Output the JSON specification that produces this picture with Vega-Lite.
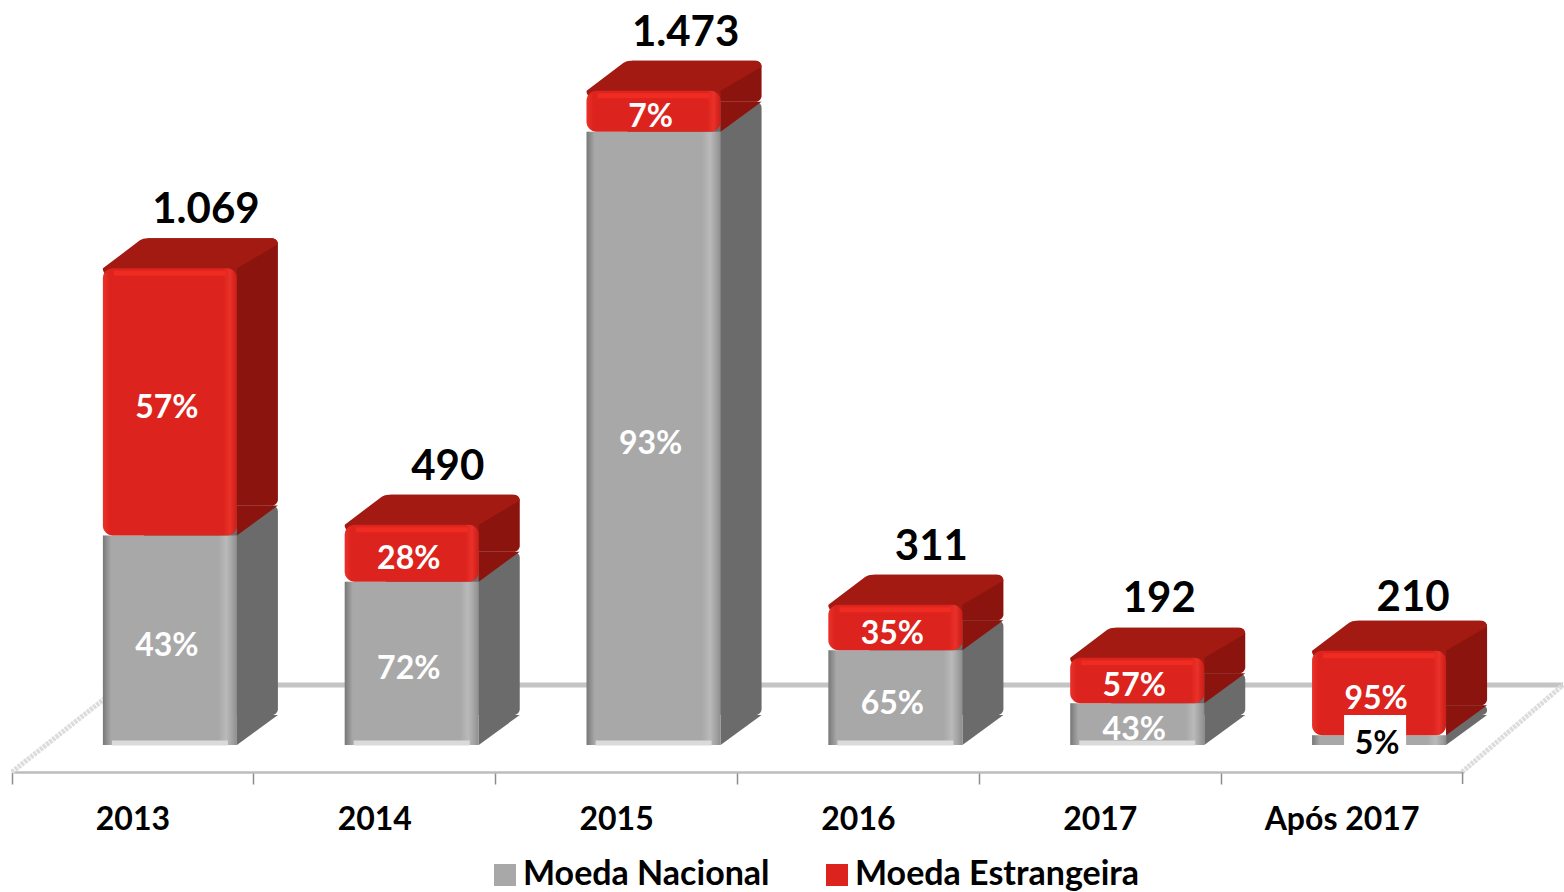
{
"$schema":"https://vega.github.io/schema/vega-lite/v6.json",
"width":1451,"height":772,"autosize":{"type":"none"},
"padding":{"left":12,"top":0,"right":101,"bottom":120},
"background":"white",
"config":{"view":{"stroke":null},"font":"Lato"},
"data":{"values":[
{"categoria":"2013","serie":"Moeda Nacional","valor":471,"pct":"43%","total":"1.069"},
{"categoria":"2014","serie":"Moeda Nacional","valor":367,"pct":"72%","total":"490"},
{"categoria":"2015","serie":"Moeda Nacional","valor":1378,"pct":"93%","total":"1.473"},
{"categoria":"2016","serie":"Moeda Nacional","valor":213,"pct":"65%","total":"311"},
{"categoria":"2017","serie":"Moeda Nacional","valor":94,"pct":"43%","total":"192"},
{"categoria":"Após 2017","serie":"Moeda Nacional","valor":22,"pct":"5%","total":"210"},
{"categoria":"2013","serie":"Moeda Estrangeira","valor":600,"pct":"57%","total":"1.069"},
{"categoria":"2014","serie":"Moeda Estrangeira","valor":128,"pct":"28%","total":"490"},
{"categoria":"2015","serie":"Moeda Estrangeira","valor":92,"pct":"7%","total":"1.473"},
{"categoria":"2016","serie":"Moeda Estrangeira","valor":102,"pct":"35%","total":"311"},
{"categoria":"2017","serie":"Moeda Estrangeira","valor":102,"pct":"57%","total":"192"},
{"categoria":"Após 2017","serie":"Moeda Estrangeira","valor":190,"pct":"95%","total":"210"}
]},
"transform":[
{"stack":"valor","groupby":["categoria"],"sort":[{"field":"serie","order":"descending"}],"as":["v0","v1"]},
{"calculate":"(datum.v0+datum.v1)/2","as":"meio"}
],
"encoding":{
"x":{"field":"categoria","type":"nominal","title":null,
 "scale":{"domain":["2013","2014","2015","2016","2017","Após 2017"],"paddingInner":0,"paddingOuter":0},
 "axis":{"labelAngle":0,"bandPosition":0,"domainColor":"#bdbdbd","domainWidth":2.5,"tickColor":"#8c8c8c","tickWidth":1.5,"tickSize":12,"labelPadding":20,"labelFont":"Lato","labelFontWeight":"bold","labelFontSize":32,"labelColor":"#000000","labelLimit":300}},
"y":{"field":"v1","type":"quantitative","axis":null,"scale":{"domain":[-60.67,1674],"nice":false,"zero":false}}
},
"layer":[
{"transform":[{"filter":"datum.categoria==='2013'&&datum.serie==='Moeda Nacional'"}],
 "mark":{"type":"rule","stroke":"#c4c4c4","strokeWidth":5,"xOffset":-30,"x2Offset":221},
 "encoding":{"x":{"datum":"2013"},"x2":{"datum":"Após 2017"},"y":{"datum":135},"y2":null}},
{"transform":[{"filter":"datum.categoria==='2013'&&datum.serie==='Moeda Nacional'"}],
 "mark":{"type":"rule","stroke":"#dcdcdc","strokeWidth":5,"strokeDash":[3,1],"xOffset":-121,"x2Offset":-11},
 "encoding":{"x":{"datum":"2013"},"x2":{"datum":"2013"},"y":{"datum":-60.67},"y2":{"datum":135}}},
{"transform":[{"filter":"datum.categoria==='2013'&&datum.serie==='Moeda Nacional'"}],
 "mark":{"type":"rule","stroke":"#dcdcdc","strokeWidth":5,"strokeDash":[3,1],"xOffset":120,"x2Offset":221},
 "encoding":{"x":{"datum":"Após 2017"},"x2":{"datum":"Após 2017"},"y":{"datum":-60.67},"y2":{"datum":135}}},
{"transform":[{"filter":"datum.categoria==='2013'&&datum.serie==='Moeda Nacional'"}],
 "mark":{"type":"rule","stroke":"#8c8c8c","strokeWidth":1.5,"xOffset":120.5,"x2Offset":120.5,"y2Offset":12},
 "encoding":{"x":{"datum":"Após 2017"},"x2":{"datum":"Após 2017"},"y":{"datum":-60.67},"y2":{"datum":-60.67}}},
{"mark":{"type":"bar","size":134,"xOffset":78,"yOffset":-30,"y2Offset":-30,"cornerRadius":6},
 "encoding":{"y2":{"field":"v0"},"fill":{"condition":{"test":"datum.serie==='Moeda Nacional'","value":"#6b6b6b"},"value":"#8c140e"}}},
{"mark":{"type":"point","filled":true,"opacity":1,"size":40000,"strokeWidth":0,"xOffset":104,"shape":"M 0 0 L 0.41 -0.3 L 0 -0.3 Z"},
 "encoding":{"y":{"field":"v0"},"fill":{"condition":{"test":"datum.serie==='Moeda Nacional'","value":"#6b6b6b"},"value":"#8c140e"}}},
{"transform":[{"filter":"datum.serie==='Moeda Estrangeira'"}],
 "mark":{"type":"point","filled":true,"opacity":1,"size":40000,"strokeWidth":0,"xOffset":104,"fill":"#a31a13","shape":"M -1.34 0.02 L -1.34 0 L -0.97 -0.28 Q -0.94 -0.3 -0.9 -0.3 L 0.34 -0.3 Q 0.41 -0.3 0.41 -0.24 L 0 0 L 0 0.1 L -1.3 0.1 Z"}},
{"transform":[{"filter":"datum.serie==='Moeda Nacional'"}],
 "mark":{"type":"bar","size":134,"xOffset":37},
 "encoding":{"y2":{"field":"v0"},"fill":{"field":"serie","type":"nominal","scale":{"domain":["Moeda Nacional","Moeda Estrangeira"],"range":["#a8a8a8","#dc231d"]},
  "legend":{"title":null,"orient":"none","legendX":476,"legendY":858,"direction":"horizontal","columns":2,"symbolType":"square","symbolSize":484,"symbolStrokeWidth":0,"labelFont":"Lato","labelFontWeight":"bold","labelFontSize":34,"labelColor":"#000000","labelLimit":400,"columnPadding":50,"labelOffset":1}}}},
{"transform":[{"filter":"datum.serie==='Moeda Estrangeira'"}],
 "mark":{"type":"bar","size":134,"xOffset":37,"cornerRadius":10},
 "encoding":{"y2":{"field":"v0"},"fill":{"field":"serie","type":"nominal"}}},
{"transform":[{"filter":"datum.serie==='Moeda Nacional'"}],
 "mark":{"type":"bar","size":134,"xOffset":37,"fill":{"gradient":"linear","x1":0,"x2":1,"y1":0,"y2":0,"stops":[{"offset":0,"color":"rgba(60,60,60,0.45)"},{"offset":0.06,"color":"rgba(60,60,60,0)"},{"offset":0.86,"color":"rgba(255,255,255,0)"},{"offset":0.92,"color":"rgba(255,255,255,0.2)"},{"offset":1,"color":"rgba(60,60,60,0.25)"}]}},
 "encoding":{"y2":{"field":"v0"}}},
{"transform":[{"filter":"datum.serie==='Moeda Estrangeira'"}],
 "mark":{"type":"bar","size":134,"xOffset":37,"cornerRadius":10,"fill":{"gradient":"linear","x1":0,"x2":1,"y1":0,"y2":0,"stops":[{"offset":0,"color":"rgba(255,70,60,0.4)"},{"offset":0.05,"color":"rgba(255,70,60,0)"},{"offset":0.9,"color":"rgba(255,70,60,0)"},{"offset":0.95,"color":"rgba(255,70,60,0.4)"},{"offset":1,"color":"rgba(160,20,15,0.3)"}]}},
 "encoding":{"y2":{"field":"v0"}}},
{"transform":[{"filter":"datum.serie==='Moeda Estrangeira'"}],
 "mark":{"type":"tick","size":112,"thickness":5,"xOffset":37,"yOffset":5,"color":"#ef2b22","opacity":1}},
{"transform":[{"filter":"datum.serie==='Moeda Nacional'&&datum.valor>30"}],
 "mark":{"type":"tick","size":116,"thickness":5,"xOffset":37,"yOffset":-2,"color":"#dadada","opacity":1},"encoding":{"y":{"field":"v0"}}},
{"transform":[{"filter":"datum.pct==='5%'"}],
 "mark":{"type":"point","filled":true,"opacity":1,"size":40000,"strokeWidth":0,"fill":"#ffffff","xOffset":33,"yOffset":2,"shape":"M -0.31 -0.27 L 0.31 -0.27 L 0.31 0.27 L -0.31 0.27 Z"},
 "encoding":{"y":{"field":"meio"}}},
{"transform":[{"filter":"datum.pct!=='5%'"}],
 "mark":{"type":"text","font":"Lato","fontWeight":"bold","fontSize":32,"xOffset":34,"yOffset":6,"baseline":"middle","align":"center","fill":"#ffffff"},
 "encoding":{"y":{"field":"meio"},"text":{"field":"pct"}}},
{"transform":[{"filter":"datum.pct==='5%'"}],
 "mark":{"type":"text","font":"Lato","fontWeight":"bold","fontSize":32,"xOffset":35,"yOffset":4,"baseline":"middle","align":"center","fill":"#000000"},
 "encoding":{"y":{"field":"meio"},"text":{"field":"pct"}}},
{"transform":[{"filter":"datum.serie==='Moeda Estrangeira'&&datum.total!=='1.473'&&datum.total!=='192'&&datum.total!=='210'"}],
 "mark":{"type":"text","font":"Lato","fontWeight":"bold","fontSize":42,"xOffset":73,"yOffset":-58,"baseline":"middle","align":"center","fill":"#000000"},
 "encoding":{"text":{"field":"total"}}},
{"transform":[{"filter":"datum.serie==='Moeda Estrangeira'&&datum.total==='1.473'"}],
 "mark":{"type":"text","font":"Lato","fontWeight":"bold","fontSize":42,"xOffset":69,"yOffset":-58,"baseline":"middle","align":"center","fill":"#000000"},
 "encoding":{"text":{"field":"total"}}},
{"transform":[{"filter":"datum.serie==='Moeda Estrangeira'&&datum.total==='192'"}],
 "mark":{"type":"text","font":"Lato","fontWeight":"bold","fontSize":42,"xOffset":59,"yOffset":-59,"baseline":"middle","align":"center","fill":"#000000"},
 "encoding":{"text":{"field":"total"}}},
{"transform":[{"filter":"datum.serie==='Moeda Estrangeira'&&datum.total==='210'"}],
 "mark":{"type":"text","font":"Lato","fontWeight":"bold","fontSize":42,"xOffset":71,"yOffset":-53,"baseline":"middle","align":"center","fill":"#000000"},
 "encoding":{"text":{"field":"total"}}}
]
}
